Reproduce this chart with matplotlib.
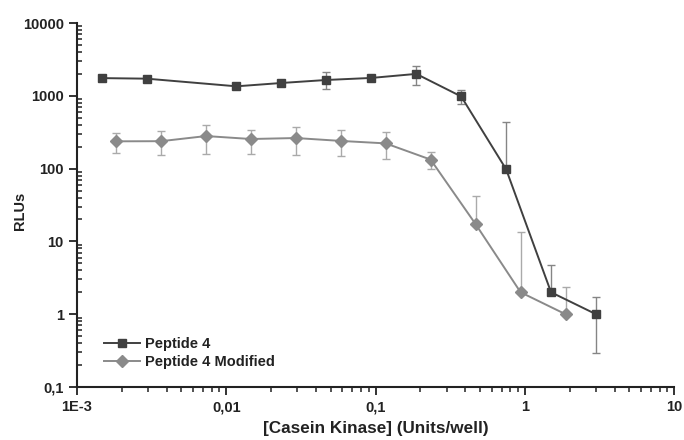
import numpy as np
import matplotlib
matplotlib.use('Agg')
import matplotlib.pyplot as plt
from matplotlib.ticker import FixedLocator, LogLocator, NullFormatter

plt.rcParams['font.family'] = ['Liberation Sans', 'DejaVu Sans']
plt.rcParams['font.weight'] = 'bold'

# Peptide 4 (squares)
pep_x = [0.00146, 0.00293, 0.0117, 0.0234, 0.0469, 0.0938, 0.1875, 0.375, 0.75, 1.5, 3.0]
pep_y = [1750, 1720, 1350, 1500, 1650, 1760, 2000, 980, 98, 2.0, 1.0]
pep_hi = [1750, 1720, 1350, 1500, 2100, 1760, 2570, 1200, 433, 4.8, 1.7]
pep_lo = [1750, 1720, 1350, 1500, 1230, 1760, 1400, 770, 98, 2.0, 0.29]

# Peptide 4 Modified (diamonds)
mod_x = [0.00183, 0.00366, 0.00732, 0.0146, 0.0293, 0.0586, 0.117, 0.234, 0.469, 0.9375, 1.875]
mod_y = [237, 238, 280, 255, 263, 240, 222, 133, 17.2, 2.0, 1.0]
mod_hi = [311, 328, 401, 343, 377, 336, 314, 167, 42, 13.5, 2.4]
mod_lo = [165, 152, 157, 160, 154, 150, 136, 99, 17.2, 2.0, 1.0]

x_ticks = [1e-3, 1e-2, 1e-1, 1, 10]
x_labels = ['1E-3', '0,01', '0,1', '1', '10']
y_ticks = [0.1, 1, 10, 100, 1000, 10000]
y_labels = ['0,1', '1', '10', '100', '1000', '10000']

dark = '#404040'
mid = '#8a8a8a'
ink = '#222222'

fig = plt.figure(figsize=(6.84, 4.4), dpi=100)
ax = fig.add_axes([0.1126, 0.1205, 0.8728, 0.8272])

def err(y, hi, lo):
    y = np.array(y)
    return [y - np.array(lo), np.array(hi) - y]

ax.errorbar(mod_x, mod_y, yerr=err(mod_y, mod_hi, mod_lo), fmt='none',
            ecolor='#aaaaaa', elinewidth=1.0, capsize=2.7, capthick=1.0, zorder=2)
ax.errorbar(pep_x, pep_y, yerr=err(pep_y, pep_hi, pep_lo), fmt='none',
            ecolor='#858585', elinewidth=1.0, capsize=2.7, capthick=1.0, zorder=2)
ax.plot(pep_x, pep_y, color=dark, lw=1.4, marker='s', ms=5.6,
        label='Peptide 4', zorder=4)
ax.plot(mod_x, mod_y, color=mid, lw=1.4, marker='D', ms=6.3,
        label='Peptide 4 Modified', zorder=3)

ax.set_xscale('log')
ax.set_yscale('log')
ax.set_xlim(1e-3, 10)
ax.set_ylim(0.1, 10000)

ax.xaxis.set_major_locator(FixedLocator(x_ticks))
ax.set_xticklabels(x_labels)
ax.yaxis.set_major_locator(FixedLocator(y_ticks))
ax.set_yticklabels(y_labels)
ax.xaxis.set_minor_locator(LogLocator(base=10, subs=np.arange(2, 10), numticks=20))
ax.yaxis.set_minor_locator(LogLocator(base=10, subs=np.arange(2, 10), numticks=20))
ax.xaxis.set_minor_formatter(NullFormatter())
ax.yaxis.set_minor_formatter(NullFormatter())

for s in ['top', 'right']:
    ax.spines[s].set_visible(False)
for s in ['left', 'bottom']:
    ax.spines[s].set_linewidth(1.5)
    ax.spines[s].set_color(ink)

ax.tick_params(axis='both', which='major', direction='out', length=6, width=1.3,
               labelsize=10.5, colors=ink)
ax.tick_params(axis='x', which='minor', direction='out', length=3.5, width=1.1, colors=ink)
ax.tick_params(axis='y', which='minor', direction='in', length=3.5, width=1.1, colors=ink)

ax.set_xlabel('[Casein Kinase] (Units/well)', fontsize=12.3, fontweight='bold',
              color=ink, labelpad=5)
ax.set_ylabel('RLUs', fontsize=10.5, fontweight='bold', color=ink)
ax.yaxis.set_label_coords(-0.084, 0.485)

leg = ax.legend(loc='lower left', bbox_to_anchor=(0.045, 0.05), frameon=False,
                fontsize=10.5, handlelength=2.5, handletextpad=0.3, labelspacing=0.25,
                borderaxespad=0, borderpad=0)
for t in leg.get_texts():
    t.set_color(ink)

fig.savefig('out.png', dpi=100)
